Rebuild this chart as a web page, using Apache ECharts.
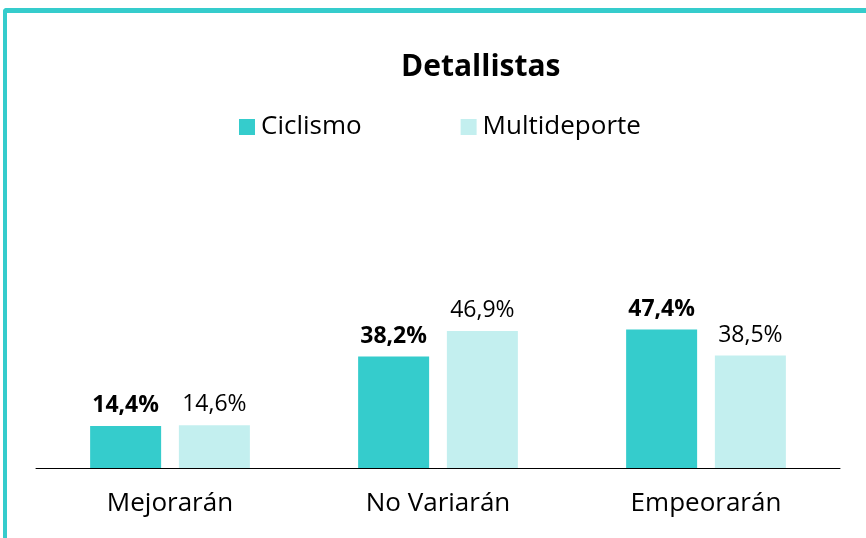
<!DOCTYPE html>
<html>
<head>
<meta charset="utf-8">
<script src="https://cdn.jsdelivr.net/npm/echarts@6/dist/echarts.min.js"></script>
<style>
  html, body { margin: 0; padding: 0; background: #fff; }
  #frame {
    position: absolute; left: 3px; top: 8px; width: 880px; height: 526px;
    border-left: 4px solid #35cccc; border-top: 5px solid #35cccc;
    border-bottom: 2px solid #c3eeee; border-radius: 4px 0 0 0;
  }
  #main { position: absolute; left: 0; top: 0; width: 866px; height: 538px; }
</style>
</head>
<body>
<div id="frame"></div>
<div id="main"></div>
<script>
// datos del gráfico
const categorias = ["Mejorarán", "No Variarán", "Empeorarán"];
const ciclismo = [14.4, 38.2, 47.4];
const multideporte = [14.6, 46.9, 38.5];
const series_nombres = ["Ciclismo", "Multideporte"];

const fuente = "'Open Sans', 'Noto Sans', sans-serif";
let myChart = echarts.init(document.getElementById("main"));

function pct(p) {
  return p.value.toFixed(1).replace(".", ",") + "%";
}

var option = {
  textStyle: { fontFamily: fuente },
  title: {
    text: "Detallistas",
    left: 396,
    top: 47,
    textStyle: { fontSize: 30, fontWeight: "bold", color: "#000", fontFamily: fuente },
  },
  legend: {
    data: series_nombres,
    left: 234,
    top: 109,
    icon: "rect",
    itemWidth: 16,
    itemHeight: 16,
    itemGap: 99,
    textStyle: { fontSize: 26, color: "#000", fontFamily: fuente, padding: [0, 0, 0, 1] },
  },
  grid: { left: 36, right: 26, top: 176, bottom: 70 },
  xAxis: {
    type: "category",
    data: categorias,
    axisLine: { lineStyle: { color: "#000", width: 1 } },
    axisTick: { show: false },
    axisLabel: { fontSize: 26, color: "#000", margin: 23, fontFamily: fuente },
  },
  yAxis: {
    type: "value",
    min: 0,
    max: 100,
    show: false,
  },
  series: [
    {
      name: series_nombres[0],
      type: "bar",
      data: ciclismo,
      barWidth: 71,
      barGap: "25%",
      itemStyle: { color: "#35cccc" },
      label: {
        show: true, position: "top", distance: 9, formatter: pct,
        fontSize: 23, fontWeight: "bold", color: "#000", fontFamily: fuente,
      },
    },
    {
      name: series_nombres[1],
      type: "bar",
      data: multideporte,
      barWidth: 71,
      itemStyle: { color: "#c3efef" },
      label: {
        show: true, position: "top", distance: 9, formatter: pct,
        fontSize: 23, color: "#000", fontFamily: fuente,
      },
    },
  ],
};
myChart.setOption(option);
</script>
</body>
</html>
